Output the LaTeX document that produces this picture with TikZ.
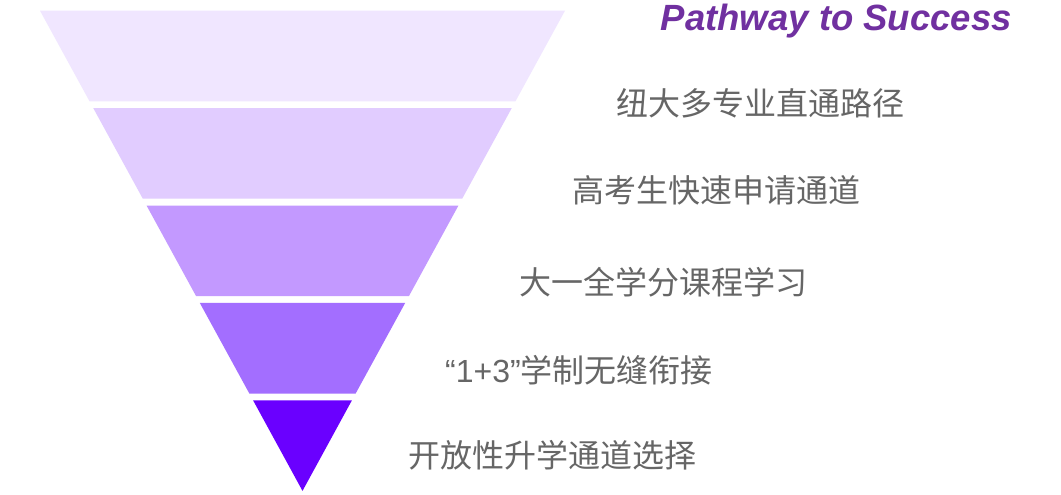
\documentclass[tikz,border=0pt]{standalone}
\usepackage{fontspec}
\setmainfont{Liberation Sans}
\newfontfamily\cjkfont{Noto Sans CJK SC}
\newfontfamily\latfont{Liberation Sans}
\definecolor{bandA}{RGB}{240,230,255}
\definecolor{bandB}{RGB}{225,204,255}
\definecolor{bandC}{RGB}{195,153,255}
\definecolor{bandD}{RGB}{163,110,255}
\definecolor{bandE}{RGB}{106,0,255}
\definecolor{titlepurple}{RGB}{112,48,160}
\definecolor{labelgray}{RGB}{102,102,102}
\tikzset{
  lbl/.style={font=\cjkfont\fontsize{32}{36}\selectfont, text=labelgray, inner sep=0pt, anchor=base west},
  ttl/.style={font=\latfont\bfseries\itshape\fontsize{36.5}{40}\selectfont, text=titlepurple, inner sep=0pt, anchor=base east}
}
\begin{document}
\begin{tikzpicture}[x=1pt,y=-1pt]
\useasboundingbox (0,0) rectangle (1061,495);
\fill[white] (0,0) rectangle (1061,495);
\foreach \i/\c in {0/bandA,1/bandB,2/bandC,3/bandD,4/bandE}{
  \pgfmathsetmacro\ya{10.7+97.4*\i}
  \pgfmathsetmacro\yb{\ya+90.6}
  \pgfmathsetmacro\wa{0.546875*(490.7-\ya)}
  \pgfmathsetmacro\wb{max(0,0.546875*(490.7-\yb))}
  \fill[\c] ({302.5-\wa},\ya) -- ({302.5+\wa},\ya) -- ({302.5+\wb},\yb) -- ({302.5-\wb},\yb) -- cycle;
}
\node[ttl] (title) at (1012,31) {Pathway to Success};
\node[lbl] (l1) at (616,116) {纽大多专业直通路径};
\node[lbl] (l2) at (572,202) {高考生快速申请通道};
\node[lbl] (l3) at (519,294) {大一全学分课程学习};
\node[lbl] (l4) at (445,382) {{\latfont “1+3”}学制无缝衔接};
\node[lbl] (l5) at (408,467) {开放性升学通道选择};
\end{tikzpicture}
\end{document}
